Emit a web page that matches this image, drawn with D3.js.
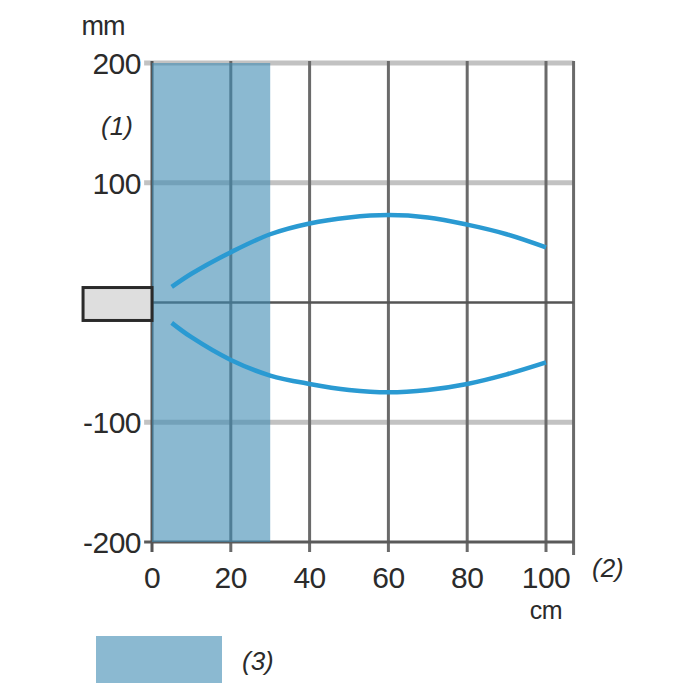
<!DOCTYPE html>
<html>
<head>
<meta charset="utf-8">
<script src="https://cdn.jsdelivr.net/npm/d3@7"></script>
<style>
  body { margin: 0; background: #fff; }
  text { font-family: "Liberation Sans", Arial, sans-serif; fill: #2b2b2b; }
</style>
</head>
<body>
<div id="chart"></div>
<script>
// Data
const xTicks = [0, 20, 40, 60, 80, 100];
const yTicks = [200, 100, -100, -200];
const gridX = [20, 40, 60, 80, 100, 107];
const zoneX = [0, 30];            // (3) shaded zone, cm
const sensorX = [-17.5, 0];       // sensor body, cm
const sensorY = [12.5, -15];      // sensor body, mm
const curveX = [5, 10, 20, 30, 40, 50, 60, 70, 80, 90, 100];
const upperY = [13, 24, 42, 57, 66, 71, 73, 71, 65, 57, 46];
const lowerY = [-17, -29, -48, -61, -68, -73, -75, -73, -68, -60, -50];

const width = 700, height = 700;

const svg = d3.select("#chart")
    .append("svg")
    .attr("width", width)
    .attr("height", height);

// Scales
const x = d3.scaleLinear().domain([0, 100]).range([152, 546]);
const y = d3.scaleLinear().domain([-200, 200]).range([542, 63]);

// Light horizontal grid lines
svg.selectAll(".hgrid")
    .data([200, 100, -100])
    .enter().append("line")
    .attr("x1", x(-2)).attr("x2", x(107))
    .attr("y1", d => y(d)).attr("y2", d => y(d))
    .style("stroke", "#c2c2c2")
    .style("stroke-width", 5);

// Vertical grid lines with tick stubs
svg.selectAll(".vgrid")
    .data(gridX)
    .enter().append("line")
    .attr("x1", d => x(d)).attr("x2", d => x(d))
    .attr("y1", y(200) - 2).attr("y2", d => d === 107 ? y(-200) + 13 : y(-200) + 10)
    .style("stroke", "#6a6a6a")
    .style("stroke-width", 3);

// Zero line and bottom axis
svg.append("line")
    .attr("x1", x(-2)).attr("x2", x(107))
    .attr("y1", y(0)).attr("y2", y(0))
    .style("stroke", "#555")
    .style("stroke-width", 2.5);

svg.append("line")
    .attr("x1", x(-2)).attr("x2", x(107))
    .attr("y1", y(-200)).attr("y2", y(-200))
    .style("stroke", "#5a5a5a")
    .style("stroke-width", 3);

// Left axis
svg.append("line")
    .attr("x1", x(0)).attr("x2", x(0))
    .attr("y1", y(200) - 2).attr("y2", y(-200) + 10)
    .style("stroke", "#555")
    .style("stroke-width", 3);

// Shaded zone (3)
svg.append("rect")
    .attr("x", x(zoneX[0]))
    .attr("y", y(200))
    .attr("width", x(zoneX[1]) - x(zoneX[0]))
    .attr("height", y(-200) - y(200))
    .style("fill", "#3e8ab2")
    .style("fill-opacity", 0.6);

// Sensor body
svg.append("rect")
    .attr("x", x(sensorX[0]))
    .attr("y", y(sensorY[0]))
    .attr("width", x(sensorX[1]) - x(sensorX[0]))
    .attr("height", y(sensorY[1]) - y(sensorY[0]))
    .style("fill", "#dedede")
    .style("stroke", "#2a2a2a")
    .style("stroke-width", 3);

// Detection curves
const line = d3.line()
    .x(d => x(d[0]))
    .y(d => y(d[1]))
    .curve(d3.curveCatmullRom);

[upperY, lowerY].forEach(vals => {
    svg.append("path")
        .datum(curveX.map((c, i) => [c, vals[i]]))
        .attr("d", line)
        .style("fill", "none")
        .style("stroke", "#2a9ad2")
        .style("stroke-width", 4.5);
});

// Y tick labels
svg.selectAll(".ylab")
    .data(yTicks)
    .enter().append("text")
    .attr("x", 141)
    .attr("y", d => y(d))
    .attr("dy", "0.36em")
    .attr("text-anchor", "end")
    .style("font-size", "30px")
    .style("letter-spacing", "-0.5px")
    .text(d => d);

// X tick labels
svg.selectAll(".xlab")
    .data(xTicks)
    .enter().append("text")
    .attr("x", d => x(d))
    .attr("y", 588)
    .attr("text-anchor", "middle")
    .style("font-size", "30px")
    .style("letter-spacing", "-0.5px")
    .text(d => d);

// Units and notes
svg.append("text").attr("x", 103).attr("y", 35).attr("text-anchor", "middle")
    .style("font-size", "27px").style("letter-spacing", "-1px").text("mm");
svg.append("text").attr("x", x(100)).attr("y", 619).attr("text-anchor", "middle")
    .style("font-size", "25px").style("letter-spacing", "-0.5px").text("cm");
svg.append("text").attr("x", 117).attr("y", 135).attr("text-anchor", "middle")
    .style("font-size", "26px").style("font-style", "italic").text("(1)");
svg.append("text").attr("x", 592).attr("y", 577)
    .style("font-size", "26px").style("font-style", "italic").text("(2)");

// Legend
svg.append("rect")
    .attr("x", 96).attr("y", 636)
    .attr("width", 126).attr("height", 47)
    .style("fill", "#3e8ab2")
    .style("fill-opacity", 0.6);
svg.append("text").attr("x", 242).attr("y", 670)
    .style("font-size", "26px").style("font-style", "italic").text("(3)");
</script>
</body>
</html>
